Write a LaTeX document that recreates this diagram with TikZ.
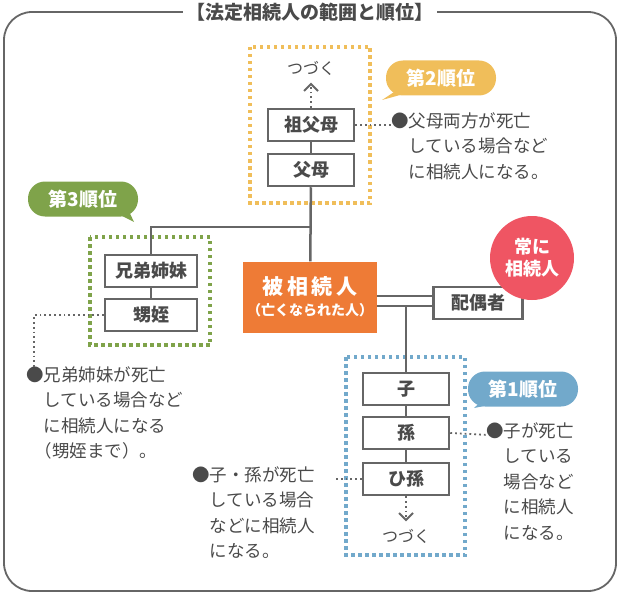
\documentclass[tikz,border=0pt]{standalone}
\usepackage{fontspec}
\setmainfont{Noto Sans CJK JP}
\usetikzlibrary{arrows.meta}
\definecolor{txtgray}{HTML}{4A4A4A}
\definecolor{lngray}{HTML}{666666}
\definecolor{rankone}{HTML}{72A9CB}
\definecolor{ranktwo}{HTML}{F0BE5A}
\definecolor{rankthree}{HTML}{7FA34A}
\definecolor{heir}{HTML}{EE7B36}
\definecolor{always}{HTML}{EF5563}
\tikzset{
  person/.style={draw=lngray, line width=2.5pt, fill=white, minimum width=86pt, minimum height=32pt, font=\fontsize{18}{18}\selectfont\bfseries, text=txtgray},
  group/.style={draw=#1, line width=3.5pt, dash pattern=on 3.5pt off 3.5pt},
  note/.style={anchor=north west, align=left, text=txtgray, font=\fontsize{17.5}{25.5}\selectfont, inner sep=0pt},
  dots/.style={draw=lngray, line width=1.8pt, dash pattern=on 1.8pt off 3pt},
  link/.style={draw=lngray, line width=2.5pt},
  bubble/.style={fill=#1, rounded corners=17pt, minimum width=110pt, minimum height=35pt, text=white, font=\fontsize{19}{19}\selectfont\bfseries}
}
\begin{document}
\begin{tikzpicture}[x=1pt,y=-1pt]
    \useasboundingbox (0,0) rectangle (620,596);
    % frame and title
    \draw[lngray, line width=1.8pt, rounded corners=28pt] (4,12) rectangle (616,591);
    \node[fill=white, text=txtgray, font=\fontsize{19}{19}\selectfont\bfseries] (title) at (310,12) {【法定相続人の範囲と順位】};

    % second rank: parents
    \draw[group=ranktwo] (250,47) rectangle (370,203);
    \node[person] (grand) at (311,125) {祖父母};
    \node[person] (parent) at (311,170) {父母};
    \node[text=txtgray, font=\fontsize{16}{16}\selectfont] (upmore) at (311,68) {つづく};
    \coordinate (uptip) at (311,84);
    \draw[dots] (grand.north) -- (uptip);
    \draw[lngray, line width=2pt] (304,91) -- (uptip) -- (318,91);
    \draw[link] (grand) -- (parent);

    % third rank: siblings
    \draw[group=rankthree] (90,237) rectangle (210,345);
    \node[person, minimum width=92pt] (sibling) at (151,271) {兄弟姉妹};
    \node[person, minimum width=92pt] (nephew) at (151,315) {甥姪};
    \draw[link] (sibling) -- (nephew);

    % deceased and spouse
    \node[fill=heir, minimum width=134pt, minimum height=71pt, align=center, text=white, font=\fontsize{21}{25}\selectfont\bfseries] (dec) at (310,297) {被\,相\,続\,人\\[-4pt]{\fontsize{14}{14}\selectfont（亡くなられた人）}};
    \node[person, minimum width=89pt] (spouse) at (478,303) {配偶者};
    \node[circle, fill=always, minimum size=84pt, align=center, text=white, font=\fontsize{18}{22}\selectfont\bfseries] (always) at (532,258) {常に\\相続人};
    \draw[link] (parent) -- (dec);
    \coordinate (branch) at (311,227);
    \draw[link] (branch) -| (sibling.north);
    \draw[link] (dec.east |- 0,296) -- (spouse.west |- 0,296);
    \draw[link] (dec.east |- 0,306) -- (spouse.west |- 0,306);

    % first rank: children
    \draw[group=rankone] (346,357) rectangle (465,555);
    \node[person] (child) at (406,389) {子};
    \node[person] (gchild) at (406,433) {孫};
    \node[person] (ggchild) at (406,479) {ひ孫};
    \node[text=txtgray, font=\fontsize{16}{16}\selectfont] (downmore) at (406,536) {つづく};
    \coordinate (downtip) at (406,520);
    \draw[link] (406,306) -- (child.north);
    \draw[link] (child) -- (gchild);
    \draw[link] (gchild) -- (ggchild);
    \draw[dots] (ggchild.south) -- (downtip);
    \draw[lngray, line width=2pt] (399,513) -- (downtip) -- (413,513);

    % rank bubbles
    \node[bubble=ranktwo] (rtwo) at (441,78) {第2順位};
    \fill[ranktwo] (400,88) -- (382,100) -- (418,90) -- cycle;
    \node[bubble=rankthree] (rthree) at (83,199) {第3順位};
    \fill[rankthree] (110,210) -- (134,222) -- (126,205) -- cycle;
    \node[bubble=rankone] (rone) at (523,389) {第1順位};
    \fill[rankone] (485,398) -- (474,408) -- (500,403) -- cycle;

    % notes
    \node[note] (ntwo) at (391,112) {●父母両方が死亡\\\hspace{1em}している場合など\\\hspace{1em}に相続人になる。};
    \draw[dots] (grand.east) -- (393,125);
    \node[note] (nthree) at (26,366) {●兄弟姉妹が死亡\\\hspace{1em}している場合など\\\hspace{1em}に相続人になる\\\hspace{0.5em}（甥姪まで）。};
    \coordinate (bendthree) at (34,315);
    \draw[dots] (nephew.west) -- (bendthree) -- (34,368);
    \node[note] (none) at (486,422) {●子が死亡\\\hspace{1em}している\\\hspace{1em}場合など\\\hspace{1em}に相続人\\\hspace{1em}になる。};
    \draw[dots] (gchild.east) -- (488,435);
    \node[note] (nzero) at (192,466) {●子・孫が死亡\\\hspace{1em}している場合\\\hspace{1em}などに相続人\\\hspace{1em}になる。};
    \draw[dots] (ggchild.west) -- (334,479);
\end{tikzpicture}
\end{document}
